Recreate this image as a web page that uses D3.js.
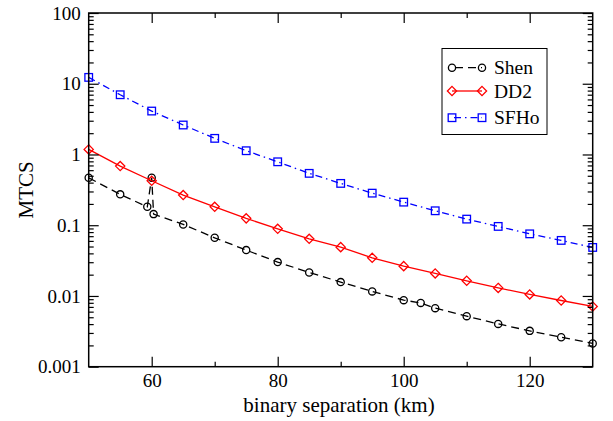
<!DOCTYPE html>
<html>
<head>
<meta charset="utf-8">
<script src="https://cdn.jsdelivr.net/npm/d3@7"></script>
<style>
html,body{margin:0;padding:0;background:#fff;}
svg text{font-family:"Liberation Serif","Times New Roman",Times,serif !important;}
</style>
</head>
<body>
<svg id="chart" width="613" height="421"></svg>
<script>
const shenX = [50, 55, 59.3, 60, 60.3, 65, 70, 75, 80, 85, 90, 95, 100, 102.7, 105, 110, 115, 120, 125, 130];
const shenY = [0.468, 0.273, 0.182, 0.47, 0.1435, 0.1026, 0.0664, 0.0445, 0.0301, 0.0215, 0.0157, 0.0116, 0.00873, 0.00798, 0.00672, 0.00518, 0.00403, 0.00321, 0.00261, 0.00213];
const dd2X = [50, 55, 60, 65, 70, 75, 80, 85, 90, 95, 100, 105, 110, 115, 120, 125, 130];
const dd2Y = [1.18, 0.685, 0.425, 0.267, 0.182, 0.125, 0.0889, 0.0643, 0.049, 0.0346, 0.0264, 0.0208, 0.0164, 0.013, 0.0105, 0.00863, 0.0071];
const sfhoX = [50, 55, 60, 65, 70, 75, 80, 85, 90, 95, 100, 105, 110, 115, 120, 125, 130];
const sfhoY = [12.3, 6.99, 4.11, 2.61, 1.69, 1.13, 0.788, 0.541, 0.39, 0.284, 0.212, 0.16, 0.122, 0.0962, 0.0755, 0.061, 0.0485];
const xTicks = [60, 80, 100, 120];
const xMinorTicks = [70, 90, 110];
const yTicks = [100, 10, 1, 0.1, 0.01, 0.001];
const yTickLabels = ["100", "10", "1", "0.1", "0.01", "0.001"];
const seriesNames = ["Shen", "DD2", "SFHo"];

const svg = d3.select("#chart");
const L = 88.7, R = 592.7, T = 13, B = 366.7;
const x = d3.scaleLinear().domain([50, 130]).range([L, R]);
const y = d3.scaleLog().domain([0.001, 100]).range([B, T]);

const series = [
  {name: seriesNames[0], xs: shenX, ys: shenY, color: "#000000", dash: "8,5", marker: "circle"},
  {name: seriesNames[1], xs: dd2X, ys: dd2Y, color: "#ff0000", dash: null, marker: "diamond"},
  {name: seriesNames[2], xs: sfhoX, ys: sfhoY, color: "#0000ff", dash: "7,4,1.5,4", marker: "square"}
];

function drawMarker(g, type, cx, cy, color) {
  if (type === "circle") {
    g.append("circle").attr("cx", cx).attr("cy", cy).attr("r", 3.6)
      .attr("fill", "none").attr("stroke", color).attr("stroke-width", 1.3);
  } else if (type === "diamond") {
    const s = 4.6;
    g.append("path").attr("d", `M${cx},${cy - s}L${cx + s},${cy}L${cx},${cy + s}L${cx - s},${cy}Z`)
      .attr("fill", "none").attr("stroke", color).attr("stroke-width", 1.3);
  } else {
    const s = 3.8;
    g.append("rect").attr("x", cx - s).attr("y", cy - s).attr("width", 2 * s).attr("height", 2 * s)
      .attr("fill", "none").attr("stroke", color).attr("stroke-width", 1.3);
  }
}

const line = d3.line().x(d => x(d[0])).y(d => y(d[1]));
series.forEach(s => {
  const pts = s.xs.map((v, i) => [v, s.ys[i]]);
  const p = svg.append("path").datum(pts).attr("d", line)
    .attr("fill", "none").attr("stroke", s.color).attr("stroke-width", 1.3);
  if (s.dash) p.attr("stroke-dasharray", s.dash);
  const g = svg.append("g");
  pts.forEach(d => drawMarker(g, s.marker, x(d[0]), y(d[1]), s.color));
});

const bottom = d3.axisBottom(x).tickValues(xTicks).tickSizeInner(-10).tickSizeOuter(0).tickPadding(7).tickFormat(d3.format("d"));
svg.append("g").attr("transform", `translate(0,${B})`).call(bottom);
svg.append("g").attr("transform", `translate(0,${T})`).call(d3.axisTop(x).tickValues(xTicks).tickSizeInner(-10).tickSizeOuter(0).tickFormat(""));
svg.append("g").attr("transform", `translate(0,${B})`).call(d3.axisBottom(x).tickValues(xMinorTicks).tickSizeInner(-5).tickSizeOuter(0).tickFormat(""));
svg.append("g").attr("transform", `translate(0,${T})`).call(d3.axisTop(x).tickValues(xMinorTicks).tickSizeInner(-5).tickSizeOuter(0).tickFormat(""));

const yMinor = [];
for (let e = -3; e < 2; e++) for (let k = 2; k <= 9; k++) yMinor.push(k * Math.pow(10, e));
const left = d3.axisLeft(y).tickValues(yTicks).tickSizeInner(-10).tickSizeOuter(0).tickPadding(8)
  .tickFormat((d, i) => yTickLabels[i]);
svg.append("g").attr("transform", `translate(${L},0)`).call(left);
svg.append("g").attr("transform", `translate(${L},0)`).call(d3.axisLeft(y).tickValues(yMinor).tickSizeInner(-5).tickSizeOuter(0).tickFormat(""));
svg.append("g").attr("transform", `translate(${R},0)`).call(d3.axisRight(y).tickValues(yTicks).tickSizeInner(-10).tickSizeOuter(0).tickFormat(""));
svg.append("g").attr("transform", `translate(${R},0)`).call(d3.axisRight(y).tickValues(yMinor).tickSizeInner(-5).tickSizeOuter(0).tickFormat(""));

svg.selectAll(".domain").remove();
svg.selectAll(".tick line").attr("stroke", "#000").attr("stroke-width", 1.2);
svg.selectAll(".tick text").attr("font-size", 19).attr("fill", "#000");

svg.append("rect").attr("x", L).attr("y", T).attr("width", R - L).attr("height", B - T)
  .attr("fill", "none").attr("stroke", "#000").attr("stroke-width", 1.5);

svg.append("text").attr("x", 339).attr("y", 412).attr("text-anchor", "middle")
  .attr("font-size", 21).text("binary separation (km)");
svg.append("text").attr("transform", `translate(33,${(T + B) / 2}) rotate(-90)`).attr("text-anchor", "middle")
  .attr("font-size", 21).text("MTCS");

const lg = svg.append("g");
lg.append("rect").attr("x", 442).attr("y", 48.5).attr("width", 105).attr("height", 86)
  .attr("fill", "#fff").attr("stroke", "#000").attr("stroke-width", 1);
const legY = [67.7, 91, 117.7];
const legBase = [74.3, 97.7, 124.3];
series.forEach((s, i) => {
  const yy = legY[i];
  const l = lg.append("line").attr("x1", 452).attr("x2", 482).attr("y1", yy).attr("y2", yy)
    .attr("stroke", s.color).attr("stroke-width", 1.3);
  if (s.dash) l.attr("stroke-dasharray", i === 0 ? "8,5" : "7,4,1.5,4").attr("stroke-dashoffset", i === 0 ? -3 : -2);
  drawMarker(lg, s.marker, 452, yy, s.color);
  drawMarker(lg, s.marker, 482, yy, s.color);
  lg.append("text").attr("x", 494).attr("y", legBase[i]).attr("font-size", 19.5).text(s.name);
});
</script>
</body>
</html>
